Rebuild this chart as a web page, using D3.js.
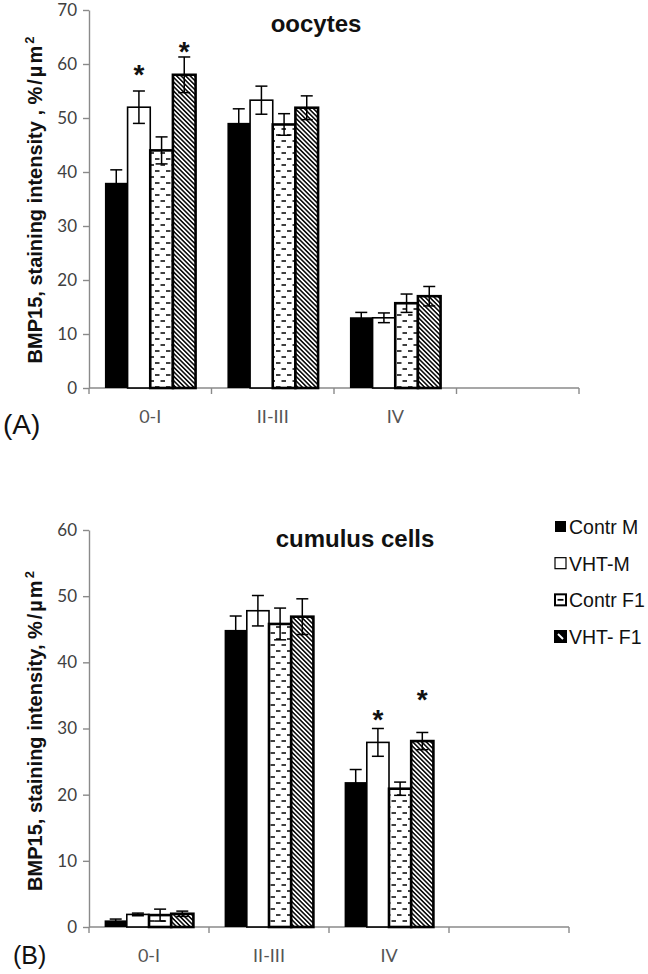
<!DOCTYPE html>
<html><head><meta charset="utf-8">
<script src="https://cdn.jsdelivr.net/npm/d3@7"></script>
<style>body{margin:0;background:#fff} svg{display:block}</style>
</head><body>
<svg id="chart" width="648" height="974"></svg>
<script>
// ---------- data ----------
const categories = ["0-I", "II-III", "IV"];
const seriesNames = ["Contr M", "VHT-M", "Contr F1", "VHT- F1"];

// Panel A: oocytes (rows = categories, columns = series)
const oocytesMeans  = [[38.0, 52.0, 44.0, 58.0], [49.1, 53.3, 48.8, 51.9], [13.1, 13.0, 15.7, 17.0]];
const oocytesErrors = [[2.4, 3.0, 2.5, 3.3], [2.6, 2.6, 2.0, 2.2], [0.9, 0.9, 1.7, 1.8]];
const oocytesStars  = [[null, 59.3, null, 63.6], [null, null, null, null], [null, null, null, null]];
const oocytesTicks  = [0, 10, 20, 30, 40, 50, 60, 70];

// Panel B: cumulus cells
const cumulusMeans  = [[1.0, 1.9, 1.8, 2.0], [44.9, 47.8, 45.8, 46.9], [21.9, 27.9, 20.9, 28.1]];
const cumulusErrors = [[0.2, 0.2, 0.9, 0.4], [2.1, 2.3, 2.4, 2.7], [1.9, 2.1, 1.0, 1.3]];
const cumulusStars  = [[null, null, null, null], [null, null, null, null], [null, 32.4, null, 35.3]];
const cumulusTicks  = [0, 10, 20, 30, 40, 50, 60];

// ---------- setup ----------
const svg = d3.select("#chart");
const defs = svg.append("defs");

const dash = defs.append("pattern").attr("id", "dash").attr("patternUnits", "userSpaceOnUse")
  .attr("width", 11).attr("height", 12);
dash.append("rect").attr("width", 11).attr("height", 12).attr("fill", "#fff");
dash.append("line").attr("x1", 1).attr("x2", 5.5).attr("y1", 3).attr("y2", 3).attr("stroke", "#000").attr("stroke-width", 1.5);
dash.append("line").attr("x1", 6.5).attr("x2", 11).attr("y1", 9).attr("y2", 9).attr("stroke", "#000").attr("stroke-width", 1.5);

const hatch = defs.append("pattern").attr("id", "hatch").attr("patternUnits", "userSpaceOnUse")
  .attr("width", 3.2).attr("height", 10).attr("patternTransform", "rotate(-45)");
hatch.append("rect").attr("width", 3.2).attr("height", 10).attr("fill", "#fff");
hatch.append("line").attr("x1", 0.8).attr("x2", 0.8).attr("y1", 0).attr("y2", 10).attr("stroke", "#000").attr("stroke-width", 1.5);

const fills = ["#000", "#fff", "url(#dash)", "url(#hatch)"];
const strokeW = [0, 1.6, 2.6, 2.6];
const axisColor = "#8a8a8a";
const tickFont = "Lato, 'Open Sans', sans-serif";
const mainFont = "'Liberation Sans', Arial, sans-serif";

const panels = [
  { means: oocytesMeans, errors: oocytesErrors, stars: oocytesStars, ticks: oocytesTicks, max: 70,
    yRange: [388, 10], xRange: [89, 579], title: "oocytes", titleX: 316, titleY: 32,
    ylab: "BMP15, staining intensity , ", ylabY: 200, tag: "(A)", tagX: 3, tagY: 434, tagSize: 28 },
  { means: cumulusMeans, errors: cumulusErrors, stars: cumulusStars, ticks: cumulusTicks, max: 60,
    yRange: [927, 530], xRange: [89, 569], title: "cumulus cells", titleX: 355, titleY: 547,
    ylab: "BMP15, staining intensity, ", ylabY: 731, tag: "(B)", tagX: 13, tagY: 964, tagSize: 25 }
];

panels.forEach(p => {
  const g = svg.append("g");
  const x = d3.scaleBand().domain([...categories, ""]).range(p.xRange);
  const bw = x.bandwidth();
  const xs = d3.scaleBand().domain(seriesNames).range([bw * 0.13, bw * 0.87]);
  const y = d3.scaleLinear().domain([0, p.max]).range(p.yRange);

  // y axis
  const ya = g.append("g").attr("transform", `translate(${p.xRange[0]},0)`)
    .call(d3.axisLeft(y).tickValues(p.ticks).tickSize(6).tickSizeOuter(0).tickPadding(6));
  ya.select(".domain").attr("stroke", axisColor).attr("stroke-width", 1.4);
  ya.selectAll(".tick line").attr("stroke", axisColor).attr("stroke-width", 1.4);
  ya.selectAll(".tick text").attr("font-family", tickFont).attr("font-size", 17).attr("fill", "#404040");

  // x axis
  const y0 = y(0);
  g.append("line").attr("x1", p.xRange[0]).attr("x2", p.xRange[1]).attr("y1", y0).attr("y2", y0)
    .attr("stroke", axisColor).attr("stroke-width", 1.4);
  const bounds = x.domain().map(d => x(d)).concat([p.xRange[1]]);
  g.selectAll(".xt").data(bounds).join("line").attr("class", "xt")
    .attr("x1", d => d).attr("x2", d => d).attr("y1", y0).attr("y2", y0 + 6)
    .attr("stroke", axisColor).attr("stroke-width", 1.4);
  g.selectAll(".xl").data(categories).join("text").attr("class", "xl")
    .attr("x", d => x(d) + bw / 2).attr("y", y0 + 35)
    .attr("text-anchor", "middle").attr("font-family", tickFont).attr("font-size", 18).attr("fill", "#555")
    .text(d => d);

  // records
  const recs = [];
  categories.forEach((c, ci) => seriesNames.forEach((s, si) => {
    recs.push({ c, s, si, v: p.means[ci][si], e: p.errors[ci][si], star: p.stars[ci][si] });
  }));

  g.selectAll(".bar").data(recs).join("rect").attr("class", "bar")
    .attr("x", d => x(d.c) + xs(d.s)).attr("width", xs.bandwidth())
    .attr("y", d => y(d.v)).attr("height", d => y0 - y(d.v))
    .attr("fill", d => fills[d.si])
    .attr("stroke", d => d.si === 0 ? "none" : "#000")
    .attr("stroke-width", d => strokeW[d.si]);

  // error bars
  const eb = g.selectAll(".err").data(recs).join("g").attr("class", "err")
    .attr("transform", d => `translate(${x(d.c) + xs(d.s) + xs.bandwidth() / 2},0)`);
  eb.append("line").attr("y1", d => y(d.v + d.e)).attr("y2", d => y(Math.max(0, d.v - d.e)))
    .attr("stroke", "#000").attr("stroke-width", 1.5);
  eb.append("line").attr("x1", -6).attr("x2", 6).attr("y1", d => y(d.v + d.e)).attr("y2", d => y(d.v + d.e))
    .attr("stroke", "#000").attr("stroke-width", 1.5);
  eb.append("line").attr("x1", -6).attr("x2", 6).attr("y1", d => y(Math.max(0, d.v - d.e))).attr("y2", d => y(Math.max(0, d.v - d.e)))
    .attr("stroke", "#000").attr("stroke-width", 1.5);

  // significance stars
  g.selectAll(".star").data(recs.filter(d => d.star !== null)).join("text").attr("class", "star")
    .attr("x", d => x(d.c) + xs(d.s) + xs.bandwidth() / 2).attr("y", d => y(d.star) + 16)
    .attr("text-anchor", "middle").attr("font-family", mainFont).attr("font-weight", "bold")
    .attr("font-size", 28).attr("fill", "#111").text("*");

  // title
  g.append("text").attr("x", p.titleX).attr("y", p.titleY).attr("text-anchor", "middle")
    .attr("font-family", mainFont).attr("font-weight", "bold").attr("font-size", 24).attr("fill", "#111")
    .text(p.title);

  // y label
  const yl = g.append("text").attr("transform", `translate(42,${p.ylabY}) rotate(-90)`)
    .attr("text-anchor", "middle").attr("font-family", mainFont).attr("font-weight", "bold")
    .attr("font-size", 20).attr("fill", "#111");
  yl.append("tspan").text(p.ylab);
  yl.append("tspan").attr("letter-spacing", 2).text("%/µm");
  yl.append("tspan").attr("dy", -8).attr("font-size", 13).text("2");

  // panel tag
  g.append("text").attr("x", p.tagX).attr("y", p.tagY).attr("font-family", mainFont)
    .attr("font-size", p.tagSize).attr("fill", "#111").text(p.tag);
});

// legend
const leg = svg.append("g");
const legY = d3.scalePoint().domain(seriesNames).range([527, 637]);
const li = leg.selectAll(".li").data(seriesNames).join("g").attr("class", "li")
  .attr("transform", d => `translate(555,${legY(d)})`);
li.append("rect").attr("x", 0).attr("y", -6).attr("width", 11).attr("height", 11)
  .attr("fill", (d, i) => i === 0 ? "#000" : i === 3 ? "#000" : "#fff")
  .attr("stroke", (d, i) => i === 0 ? "none" : "#000")
  .attr("stroke-width", (d, i) => i === 1 ? 1.2 : 2);
li.filter((d, i) => i === 2).append("line").attr("x1", 2.5).attr("x2", 8.5).attr("y1", -0.5).attr("y2", -0.5)
  .attr("stroke", "#000").attr("stroke-width", 1.8);
li.filter((d, i) => i === 3).append("line").attr("x1", 3).attr("x2", 8).attr("y1", -3).attr("y2", 2)
  .attr("stroke", "#fff").attr("stroke-width", 2);
li.append("text").attr("x", 14).attr("y", 7).attr("font-family", mainFont).attr("font-size", 19.5)
  .attr("fill", "#111").text(d => d);
</script>
</body></html>
